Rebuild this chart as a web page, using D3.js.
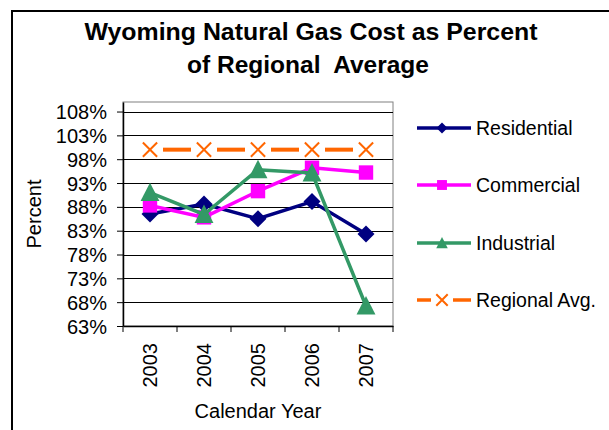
<!DOCTYPE html>
<html><head><meta charset="utf-8">
<script src="https://cdn.jsdelivr.net/npm/d3@7"></script>
<style>body{margin:0;background:#fff;} svg{display:block;font-family:"Liberation Sans",Arial,sans-serif;}</style>
</head><body>
<script>
const years = ["2003","2004","2005","2006","2007"];
const residential = [0.865, 0.886, 0.855, 0.891, 0.823];
const commercial  = [0.883, 0.858, 0.913, 0.962, 0.952];
const industrial  = [0.910, 0.864, 0.958, 0.951, 0.672];
const regionalAvg = [1.00, 1.00, 1.00, 1.00, 1.00];
const yTicks = [0.63,0.68,0.73,0.78,0.83,0.88,0.93,0.98,1.03,1.08];
const seriesNames = ["Residential","Commercial","Industrial","Regional Avg."];
const seriesColors = ["#000080","#FF00FF","#339966","#FF6600"];
const seriesShapes = ["diamond","square","triangle","x"];

const W=609,H=430;
const svg=d3.select("body").append("svg").attr("width",W).attr("height",H);
// outer border
svg.append("rect").attr("x",12).attr("y",11).attr("width",700).attr("height",600)
  .attr("fill","none").attr("stroke","#000").attr("stroke-width",2);

const L=123,R=393,T=102,B=326;
const x=d3.scaleBand().domain(years).range([L,R]);
const y=d3.scaleLinear().domain([0.63,1.10]).range([B,T]);

// title
svg.append("text").attr("x",311).attr("y",40).attr("text-anchor","middle")
  .attr("font-size",24.5).attr("font-weight","bold").attr("textLength",453).attr("lengthAdjust","spacingAndGlyphs")
  .text("Wyoming Natural Gas Cost as Percent");
svg.append("text").attr("x",308).attr("y",73).attr("text-anchor","middle")
  .attr("font-size",24.5).attr("font-weight","bold").attr("xml:space","preserve").text("of Regional  Average");

// plot border
svg.append("rect").attr("x",L).attr("y",T).attr("width",R-L).attr("height",B-T)
  .attr("fill","none").attr("stroke","#808080").attr("stroke-width",1);

// gridlines
svg.append("g").selectAll("line").data(yTicks.filter(d=>d>0.63)).join("line")
  .attr("x1",L).attr("x2",R).attr("y1",d=>Math.round(y(d))+0.5).attr("y2",d=>Math.round(y(d))+0.5)
  .attr("stroke","#000").attr("stroke-width",1);

// y axis
const yAxis=svg.append("g").attr("transform",`translate(${L},0)`)
  .call(d3.axisLeft(y).tickValues(yTicks).tickFormat(d3.format(".0%")).tickSize(6).tickSizeOuter(0));
yAxis.select(".domain").attr("stroke","#000").attr("stroke-width",1.5);
yAxis.selectAll(".tick line").attr("stroke","#000");
yAxis.selectAll(".tick text").attr("font-size",20).attr("font-family","Liberation Sans, Arial, sans-serif")
  .attr("fill","#000").attr("x",-16).attr("dy","0.35em");

// x axis
const xAxis=svg.append("g").attr("transform",`translate(0,${B})`)
  .call(d3.axisBottom(x).tickSize(0).tickSizeOuter(0));
xAxis.select(".domain").attr("stroke","#000").attr("stroke-width",1.5);
xAxis.selectAll(".tick text").attr("font-size",20).attr("font-family","Liberation Sans, Arial, sans-serif")
  .attr("fill","#000").attr("transform","rotate(-90)").attr("text-anchor","end")
  .attr("x",-17).attr("y",0).attr("dy","0.35em");
// category boundary ticks
const bounds=years.map(d=>x(d)).concat([R]);
svg.append("g").selectAll("line").data(bounds).join("line")
  .attr("x1",d=>d).attr("x2",d=>d).attr("y1",B).attr("y2",B+6).attr("stroke","#000");

svg.append("text").attr("x",258).attr("y",418).attr("text-anchor","middle").attr("font-size",20).text("Calendar Year");
svg.append("text").attr("transform","translate(41,214) rotate(-90)").attr("text-anchor","middle").attr("font-size",20).text("Percent");

const cx=d=>x(d)+x.bandwidth()/2;
function marker(g,shape,color,s){
  if(shape==="diamond"){
    g.append("path").attr("d",`M0,${-s}L${s},0L0,${s}L${-s},0Z`).attr("fill",color);
  } else if(shape==="square"){
    g.append("rect").attr("x",-s*0.9).attr("y",-s*0.9).attr("width",s*1.8).attr("height",s*1.8).attr("fill",color);
  } else if(shape==="triangle"){
    g.append("path").attr("d",`M0,${-s*1.1}L${s*1.05},${s*0.95}L${-s*1.05},${s*0.95}Z`).attr("fill",color);
  } else {
    const k=s*0.95;
    g.append("path").attr("d",`M${-k},${-k}L${k},${k}M${k},${-k}L${-k},${k}`).attr("stroke","#fff").attr("stroke-width",6);
    g.append("path").attr("d",`M${-k},${-k}L${k},${k}M${k},${-k}L${-k},${k}`).attr("stroke",color).attr("stroke-width",2);
  }
}

const allSeries=[residential,commercial,industrial,regionalAvg];
const line=d3.line().x((d,i)=>cx(years[i])).y(d=>y(d));
// draw order: regional first, then residential, commercial, industrial
[3,0,1,2].forEach(si=>{
  const vals=allSeries[si];
  const g=svg.append("g");
  if(si===3){
    for(let i=0;i<vals.length-1;i++){
      const x1=cx(years[i])+13,x2=cx(years[i+1])-13;
      g.append("line").attr("x1",x1).attr("x2",x2).attr("y1",y(vals[i])).attr("y2",y(vals[i+1]))
        .attr("stroke",seriesColors[si]).attr("stroke-width",4);
    }
  } else {
    g.append("path").datum(vals).attr("d",line).attr("fill","none")
      .attr("stroke",seriesColors[si]).attr("stroke-width",3.5);
  }
  vals.forEach((v,i)=>{
    const mg=g.append("g").attr("transform",`translate(${cx(years[i])},${y(v)})`);
    marker(mg,seriesShapes[si],seriesColors[si],si===0?8.5:si===1?8:si===2?9:7.5);
  });
});

// legend
const legY=[128,185,243,300];
seriesNames.forEach((n,i)=>{
  const g=svg.append("g").attr("transform",`translate(0,${legY[i]})`);
  if(i===3){
    g.append("line").attr("x1",417).attr("x2",431).attr("y1",0).attr("y2",0).attr("stroke",seriesColors[i]).attr("stroke-width",3.5);
    g.append("line").attr("x1",453).attr("x2",471).attr("y1",0).attr("y2",0).attr("stroke",seriesColors[i]).attr("stroke-width",3.5);
  } else {
    g.append("line").attr("x1",417).attr("x2",471).attr("y1",0).attr("y2",0).attr("stroke",seriesColors[i]).attr("stroke-width",3.5);
  }
  const mg=g.append("g").attr("transform","translate(442,0)");
  marker(mg,seriesShapes[i],seriesColors[i],i===3?6:5.5);
  g.append("text").attr("x",476).attr("y",0).attr("dy","0.35em").attr("font-size",19.5).text(n);
});
</script>
</body></html>
